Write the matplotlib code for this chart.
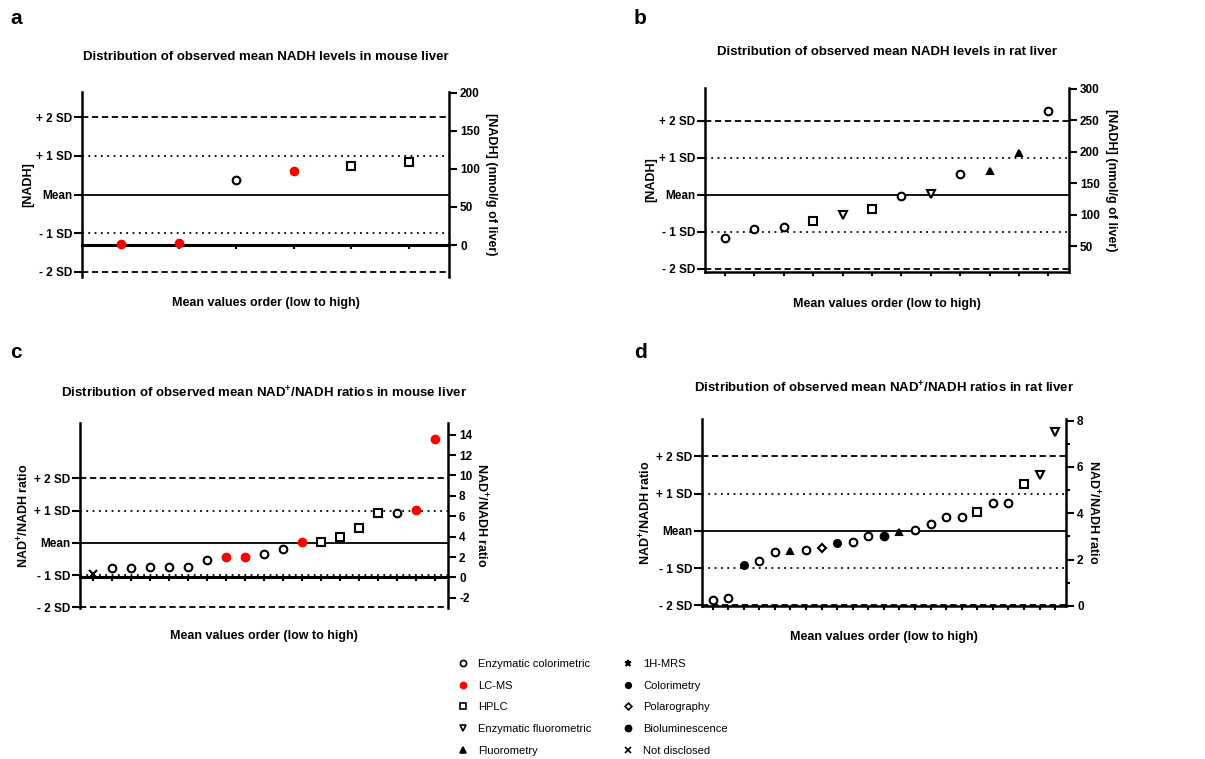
import numpy as np
import matplotlib.pyplot as plt
from matplotlib.lines import Line2D

plt.rcParams['font.family'] = ['Liberation Sans', 'DejaVu Sans']
plt.rcParams['font.weight'] = 'bold'
plt.rcParams['axes.labelweight'] = 'bold'
plt.rcParams['axes.unicode_minus'] = False
plt.rcParams['mathtext.fontset'] = 'custom'
plt.rcParams['mathtext.rm'] = 'Liberation Sans:bold'
plt.rcParams['mathtext.it'] = 'Liberation Sans:bold'
plt.rcParams['mathtext.bf'] = 'Liberation Sans:bold'

# a: mean NADH in mouse liver (nmol/g of liver), sorted low to high
mouse_nadh = [0.9, 2.2, 84.8, 97.0, 104.0, 108.8]
mouse_nadh_method = ['LC-MS', 'LC-MS', 'Enzymatic colorimetric', 'LC-MS', 'HPLC', 'HPLC']

# b: mean NADH in rat liver (nmol/g of liver)
rat_nadh = [64.2, 77.4, 81.1, 90.1, 100.5, 109.5, 130.5, 133.2, 165.3, 169.5, 198.4, 264.7]
rat_nadh_method = ['Enzymatic colorimetric', 'Enzymatic colorimetric', 'Enzymatic colorimetric',
                   'HPLC', 'Enzymatic fluorometric', 'HPLC', 'Enzymatic colorimetric',
                   'Enzymatic fluorometric', 'Enzymatic colorimetric', 'Fluorometry',
                   'Fluorometry', 'Enzymatic colorimetric']

# c: mean NAD+/NADH ratio in mouse liver
mouse_ratio = [0.36, 0.92, 0.95, 0.98, 1.01, 1.05, 1.70, 1.96, 2.03, 2.29, 2.78,
               3.43, 3.43, 3.96, 4.81, 6.28, 6.31, 6.61, 13.61]
mouse_ratio_method = ['Not disclosed'] + ['Enzymatic colorimetric'] * 6 + ['LC-MS', 'LC-MS',
                      'Enzymatic colorimetric', 'Enzymatic colorimetric', 'LC-MS', 'HPLC',
                      'HPLC', 'HPLC', 'HPLC', 'Enzymatic colorimetric', 'LC-MS', 'LC-MS']

# d: mean NAD+/NADH ratio in rat liver
rat_ratio = [0.27, 0.36, 1.79, 1.95, 2.32, 2.38, 2.41, 2.51, 2.71, 2.77, 3.00, 3.00,
             3.19, 3.28, 3.52, 3.86, 3.86, 4.06, 4.43, 4.46, 5.26, 5.65, 7.51]
rat_ratio_method = ['Enzymatic colorimetric', 'Enzymatic colorimetric', 'Colorimetry',
                    'Enzymatic colorimetric', 'Enzymatic colorimetric', 'Fluorometry',
                    'Enzymatic colorimetric', 'Polarography', 'Colorimetry',
                    'Enzymatic colorimetric', 'Enzymatic colorimetric', 'Bioluminescence',
                    'Fluorometry', 'Enzymatic colorimetric', 'Enzymatic colorimetric',
                    'Enzymatic colorimetric', 'Enzymatic colorimetric', 'HPLC',
                    'Enzymatic colorimetric', 'Enzymatic colorimetric', 'HPLC',
                    'Enzymatic fluorometric', 'Enzymatic fluorometric']

sd_labels = ['- 2 SD', '- 1 SD', 'Mean', '+ 1 SD', '+ 2 SD']

STYLES = {
    'Enzymatic colorimetric': dict(marker='o', mfc='white', mec='black', ms=5.5),
    'LC-MS': dict(marker='o', mfc='red', mec='red', ms=5.5),
    'HPLC': dict(marker='s', mfc='white', mec='black', ms=5.5),
    'Enzymatic fluorometric': dict(marker='v', mfc='white', mec='black', ms=6),
    'Fluorometry': dict(marker='^', mfc='black', mec='black', ms=5),
    '1H-MRS': dict(marker='*', mfc='black', mec='black', ms=6),
    'Colorimetry': dict(marker='o', mfc='black', mec='black', ms=5),
    'Polarography': dict(marker='D', mfc='white', mec='black', ms=4.3),
    'Bioluminescence': dict(marker='o', mfc='black', mec='black', ms=5.5),
    'Not disclosed': dict(marker='x', mfc='black', mec='black', ms=5.5),
}

W, H = 1205, 759
fig = plt.figure(figsize=(W / 100, H / 100), dpi=100)


def px_rect(x0, y0, x1, y1):
    return [x0 / W, 1 - y1 / H, (x1 - x0) / W, (y1 - y0) / H]


def panel(box, values, methods, ylim, rticks, left_label, right_label, title,
          title_y, xlabel_y, letter, letter_xy, zero_axis=False, minor=None):
    ax = fig.add_axes(px_rect(*box))
    n = len(values)
    x = np.arange(1, n + 1)
    m = np.mean(values)
    s = np.std(values, ddof=1)

    for k, ls in [(2, (0, (3.5, 2))), (1, (0, (1, 2.5))), (0, '-'),
                  (-1, (0, (1, 2.5))), (-2, (0, (3.5, 2)))]:
        ax.axhline(m + k * s, color='black', lw=1.3, ls=ls, zorder=1)
    for xi, v, meth in zip(x, values, methods):
        ax.plot(xi, v, ls='none', mew=1.5, zorder=3, clip_on=False, **STYLES[meth])

    ax.set_xlim(0.32, n + 0.7)
    ax.set_ylim(ylim)
    ax.set_yticks([m + k * s for k in (-2, -1, 0, 1, 2)])
    ax.set_yticklabels(sd_labels)
    ax.set_xticks(x)
    ax.tick_params(axis='x', labelbottom=False, length=3, width=1.5)
    ax.tick_params(axis='y', length=6, width=1.5, labelsize=8.5, pad=1)
    for side in ['top', 'right']:
        ax.spines[side].set_visible(False)
    for side in ['left', 'bottom']:
        ax.spines[side].set_linewidth(1.8)
    if zero_axis:
        ax.spines['bottom'].set_position(('data', 0))
        ax.spines['bottom'].set_linewidth(2.2)
    ax.set_ylabel(left_label, fontsize=9, labelpad=1.5)

    ax2 = ax.twinx()
    ax2.set_ylim(ylim)
    ax2.set_yticks(rticks)
    if minor is not None:
        ax2.set_yticks(minor, minor=True)
    ax2.tick_params(axis='y', length=6, width=1.5, labelsize=8.5, pad=2)
    ax2.tick_params(axis='y', which='minor', length=3, width=1.5)
    for side in ['top', 'left', 'bottom']:
        ax2.spines[side].set_visible(False)
    ax2.spines['right'].set_linewidth(1.8)
    ax2.set_ylabel(right_label, rotation=270, fontsize=9, labelpad=12)

    cx = (box[0] + box[2]) / 2 / W
    fig.text(cx, 1 - title_y / H, title, ha='center', va='center', fontsize=9.5)
    fig.text(cx, 1 - xlabel_y / H, 'Mean values order (low to high)',
             ha='center', va='center', fontsize=9)
    fig.text(letter_xy[0] / W, 1 - letter_xy[1] / H, letter, ha='left', va='center',
             fontsize=15)
    return ax


panel((82, 92, 449, 277), mouse_nadh, mouse_nadh_method, (-42, 201),
      [0, 50, 100, 150, 200], '[NADH]', '[NADH] (nmol/g of liver)',
      'Distribution of observed mean NADH levels in mouse liver',
      57, 303, 'a', (10, 18), zero_axis=True)

panel((705, 88, 1069, 272), rat_nadh, rat_nadh_method, (9.6, 301),
      [50, 100, 150, 200, 250, 300], '[NADH]', '[NADH] (nmol/g of liver)',
      'Distribution of observed mean NADH levels in rat liver',
      52, 304, 'b', (634, 18))

panel((80, 423, 448, 608), mouse_ratio, mouse_ratio_method, (-3.0, 15.15),
      [-2, 0, 2, 4, 6, 8, 10, 12, 14], r'NAD$^{+}$/NADH ratio', r'NAD$^{+}$/NADH ratio',
      r'Distribution of observed mean NAD$^{+}$/NADH ratios in mouse liver',
      393, 636, 'c', (10, 353), zero_axis=True)

panel((702, 419, 1066, 606), rat_ratio, rat_ratio_method, (0, 8.07),
      [0, 2, 4, 6, 8], r'NAD$^{+}$/NADH ratio', r'NAD$^{+}$/NADH ratio',
      r'Distribution of observed mean NAD$^{+}$/NADH ratios in rat liver',
      388, 637, 'd', (634, 353), minor=[1, 3, 5, 7])

legend_cols = [
    ['Enzymatic colorimetric', 'LC-MS', 'HPLC', 'Enzymatic fluorometric', 'Fluorometry'],
    ['1H-MRS', 'Colorimetry', 'Polarography', 'Bioluminescence', 'Not disclosed'],
]
for names, x0 in zip(legend_cols, [457, 622]):
    handles = []
    for name in names:
        st = dict(STYLES[name])
        st['ms'] = st['ms'] * 0.8
        handles.append(Line2D([], [], ls='none', mew=1.2, **st))
    fig.legend(handles, names, loc='upper left', bbox_to_anchor=(x0 / W, 1 - 659 / H),
               frameon=False, borderpad=0, borderaxespad=0, handlelength=1.0,
               handletextpad=0.9, labelspacing=1.05,
               prop=dict(family='Liberation Sans', weight='normal', size=8))

fig.savefig('out.png', dpi=100)
